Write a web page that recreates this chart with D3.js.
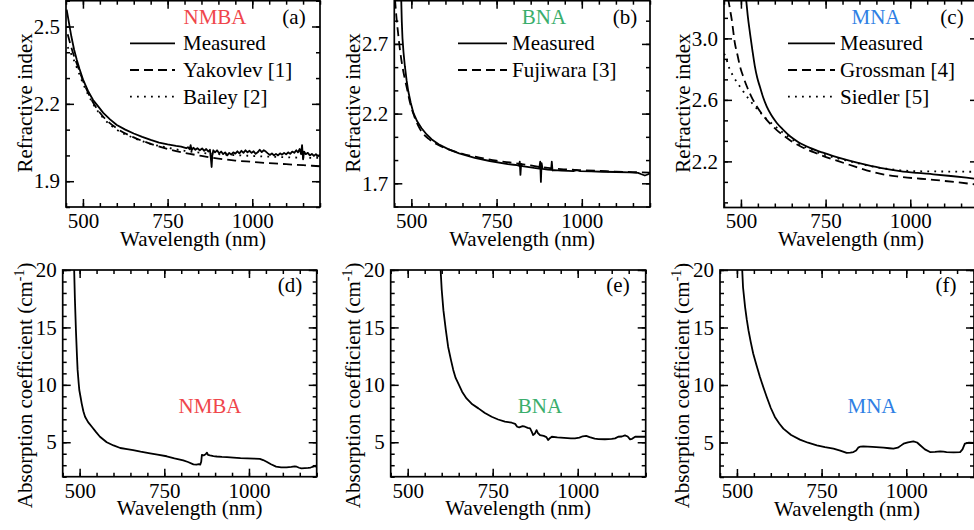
<!DOCTYPE html>
<html>
<head>
<meta charset="utf-8">
<script src="https://cdn.jsdelivr.net/npm/d3@7"></script>
<style>
  body { margin: 0; background: #fff; }
  svg, svg text { font-family: "Liberation Serif", "DejaVu Serif", serif; }
</style>
</head>
<body>
<svg id="fig" width="974" height="530" font-family="Liberation Serif, DejaVu Serif, serif"></svg>
<script>
// Refractive index (top row) and absorption (bottom row) for NMBA, BNA, MNA
// Values: [wavelength nm, value]

const nmbaMeasured = [
  [452,2.565],[458,2.52],[466,2.46],[474,2.41],[482,2.37],[490,2.335],[500,2.295],[515,2.25],
  [530,2.215],[545,2.19],[560,2.165],[580,2.14],[600,2.118],[625,2.1],[650,2.085],[675,2.072],
  [700,2.06],[725,2.05],[750,2.043],[775,2.037],[790,2.034],[800,2.03],[805,2.028],[810,2.032],
  [815,2.024],[818,2.04],[821,2.02],[826,2.03],[832,2.022],[838,2.028],[845,2.02],[852,2.027],
  [858,2.018],[864,2.025],[870,2.015],[875,2.022],[878,1.985],[880,1.955],[882,2.0],[885,2.02],
  [890,2.012],[896,2.02],[902,2.008],[908,2.015],[914,2.005],[920,2.012],[926,2.0],[932,2.01],
  [938,2.003],[944,2.012],[950,2.007],[956,2.016],[962,2.008],[968,2.018],[974,2.01],[980,2.02],
  [986,2.012],[992,2.018],[998,2.01],[1004,2.016],[1010,2.006],[1016,2.012],[1022,2.022],[1028,2.013],
  [1034,2.02],[1040,2.015],[1046,2.008],[1052,2.002],[1058,2.008],[1064,2.0],[1070,2.006],[1076,2.0],
  [1082,2.008],[1088,2.003],[1094,2.01],[1100,2.004],[1106,2.012],[1112,2.006],[1118,2.015],[1124,2.01],
  [1130,2.02],[1135,2.012],[1140,2.025],[1144,2.005],[1147,2.04],[1150,1.985],[1153,2.015],[1158,2.005],
  [1164,2.01],[1170,2.0],[1176,2.006],[1182,1.998],[1188,2.005],[1194,1.998],[1200,2.003]
];
const nmbaYakovlev = [
  [455,2.47],[470,2.40],[485,2.345],[500,2.29],[530,2.205],[560,2.15],[600,2.105],[650,2.07],
  [700,2.045],[750,2.025],[800,2.01],[850,1.998],[900,1.988],[950,1.98],[1000,1.975],[1050,1.97],
  [1100,1.966],[1150,1.962],[1200,1.958]
];
const nmbaBailey = [
  [455,2.42],[470,2.38],[485,2.33],[500,2.28],[530,2.2],[560,2.145],[600,2.1],[650,2.068],
  [700,2.045],[750,2.03],[800,2.018],[850,2.01],[900,2.005],[1000,1.998],[1100,1.993],[1200,1.99]
];

const bnaMeasured = [
  [470,3.05],[472,2.86],[474,2.74],[477,2.64],[481,2.54],[486,2.44],[491,2.36],[498,2.28],
  [506,2.205],[517,2.145],[530,2.095],[545,2.05],[560,2.015],[580,1.98],[608,1.945],[640,1.915],
  [686,1.883],[730,1.86],[783,1.838],[800,1.833],[810,1.83],[815,1.826],[818,1.855],[820,1.76],
  [822,1.84],[825,1.823],[840,1.818],[860,1.81],[875,1.806],[878,1.855],[880,1.71],[882,1.845],
  [885,1.803],[900,1.798],[910,1.796],[912,1.855],[914,1.792],[920,1.795],[940,1.791],[960,1.789],
  [975,1.787],[985,1.794],[995,1.788],[1028,1.785],[1060,1.783],[1100,1.781],[1140,1.778],[1165,1.775],
  [1175,1.765],[1185,1.756],[1193,1.763],[1200,1.772]
];
const bnaFujiwara = [
  [452,3.02],[456,2.90],[461,2.78],[467,2.65],[473,2.55],[480,2.46],[488,2.37],[497,2.27],
  [508,2.185],[525,2.09],[550,2.02],[575,1.98],[600,1.952],[650,1.912],[700,1.885],[750,1.862],
  [800,1.846],[850,1.828],[900,1.81],[950,1.8],[1000,1.794],[1050,1.789],[1100,1.784],[1150,1.78],
  [1200,1.777]
];

const mnaMeasured = [
  [515,3.26],[520,3.15],[527,3.03],[534,2.92],[541,2.82],[548,2.745],[556,2.685],[565,2.62],
  [576,2.558],[590,2.5],[606,2.45],[625,2.405],[645,2.363],[670,2.325],[704,2.288],[740,2.258],
  [773,2.234],[820,2.205],[871,2.178],[920,2.155],[970,2.137],[1020,2.125],[1068,2.116],[1120,2.105],
  [1166,2.094],[1200,2.085]
];
const mnaGrossman = [
  [462,3.26],[468,3.185],[473,3.12],[482,2.97],[490,2.89],[497,2.82],[507,2.75],[517,2.69],
  [530,2.625],[546,2.56],[565,2.5],[586,2.445],[605,2.405],[625,2.37],[650,2.33],[674,2.3],
  [720,2.255],[773,2.212],[820,2.178],[871,2.142],[910,2.12],[970,2.1],[1068,2.08],[1130,2.066],
  [1200,2.048]
];
const mnaSiedler = [
  [450,2.9],[453,2.89],[465,2.81],[477,2.755],[490,2.71],[507,2.655],[525,2.6],[546,2.545],
  [576,2.475],[600,2.43],[625,2.385],[650,2.345],[674,2.31],[710,2.275],[743,2.245],[780,2.222],
  [822,2.2],[881,2.17],[930,2.152],[970,2.142],[1010,2.137],[1050,2.135],[1100,2.134],[1200,2.132]
];

const nmbaAbs = [
  [483,21],[486,17.5],[489,14.8],[492,12.6],[494,11.3],[497,10.2],[499,9.55],[503,8.9],[506,8.39],
  [511,7.7],[516,7.22],[525,6.75],[536,6.35],[548,5.9],[560,5.48],[580,5.0],[600,4.72],[620,4.5],
  [640,4.4],[658,4.32],[680,4.18],[708,4.03],[730,3.92],[757,3.78],[780,3.6],[806,3.42],[820,3.28],
  [836,3.08],[845,3.05],[852,3.1],[856,3.05],[859,3.3],[861,3.9],[866,3.85],[872,3.95],[876,4.1],
  [879,3.9],[885,3.85],[895,3.8],[905,3.76],[920,3.72],[935,3.7],[954,3.66],[975,3.62],[995,3.6],
  [1015,3.58],[1032,3.56],[1042,3.45],[1052,3.3],[1065,3.08],[1080,2.88],[1095,2.82],[1111,2.82],
  [1125,2.85],[1135,2.9],[1141,2.87],[1148,2.78],[1155,2.72],[1165,2.74],[1175,2.76],[1182,2.8],
  [1190,2.88],[1197,2.95],[1200,2.8]
];
const bnaAbs = [
  [595,21],[600,18.3],[605,16.5],[612,14.8],[619,13.3],[627,12.2],[634,11.3],[641,10.6],[649,10.1],
  [660,9.4],[673,8.82],[690,8.3],[708,7.95],[727,7.55],[747,7.22],[766,6.98],[786,6.79],[806,6.7],
  [816,6.6],[822,6.35],[828,6.3],[838,6.4],[845,6.35],[853,6.25],[860,6.2],[865,5.9],[869,5.63],
  [874,5.75],[879,6.06],[883,5.8],[889,5.63],[900,5.55],[908,5.45],[913,5.19],[918,5.35],[924,5.48],
  [940,5.42],[960,5.38],[980,5.33],[992,5.34],[1005,5.4],[1015,5.52],[1025,5.55],[1035,5.45],
  [1050,5.32],[1061,5.28],[1080,5.26],[1100,5.3],[1110,5.34],[1119,5.48],[1130,5.5],[1139,5.6],
  [1147,5.5],[1154,5.25],[1160,5.3],[1169,5.48],[1185,5.48],[1200,5.48]
];
const mnaAbs = [
  [514,21],[518,18.5],[524,16.8],[529,15.7],[534,14.77],[541,13.7],[548,12.74],[558,11.7],[568,10.7],
  [578,9.8],[588,8.96],[600,8.0],[612,7.22],[625,6.65],[637,6.21],[660,5.65],[686,5.25],[710,4.98],
  [736,4.76],[760,4.6],[785,4.47],[805,4.3],[824,4.09],[835,4.12],[844,4.17],[852,4.3],[858,4.55],
  [865,4.65],[873,4.67],[900,4.62],[933,4.55],[950,4.5],[962,4.47],[975,4.55],[985,4.75],[992,4.9],
  [1005,5.02],[1021,5.1],[1032,5.0],[1041,4.76],[1055,4.4],[1070,4.17],[1085,4.18],[1100,4.23],
  [1110,4.2],[1119,4.17],[1140,4.15],[1159,4.17],[1166,4.4],[1173,4.9],[1185,4.98],[1200,4.96]
];

const xDomain = [450, 1200];
const xMajor = [500, 750, 1000];
const xMinor = d3.range(450, 1201, 50);

const SERIF = 'Liberation Serif, DejaVu Serif, serif';
const FONT = 21;
const DASH = '9,5';
const DOT = '1.8,5.2';

const panels = [
  { tag: '(a)', name: 'NMBA', color: '#f0464b', box: { l: 66, r: 320, t: 0.7, b: 207 },
    yDom: [1.8, 2.6], yMajor: [1.9, 2.2, 2.5], yStep: 0.1, yFmt: '.1f', yLabel: 'Refractive index',
    series: [
      { data: nmbaMeasured, label: 'Measured', dash: null, smooth: false },
      { data: nmbaYakovlev, label: 'Yakovlev [1]', dash: DASH, smooth: true },
      { data: nmbaBailey, label: 'Bailey [2]', dash: DOT, smooth: true }
    ],
    legend: { x0: 130, x1: 175, tx: 183, y0: 43.3, dy: 26.7 },
    namePos: [215, 24], tagPos: [294, 24] },
  { tag: '(b)', name: 'BNA', color: '#3aae6c', box: { l: 394.3, r: 650, t: 0.7, b: 207 },
    yDom: [1.53, 3.01], yMajor: [1.7, 2.2, 2.7], yStep: 0.5 / 3, yFmt: '.1f', yLabel: 'Refractive index',
    series: [
      { data: bnaMeasured, label: 'Measured', dash: null, smooth: false },
      { data: bnaFujiwara, label: 'Fujiwara [3]', dash: DASH, smooth: true }
    ],
    legend: { x0: 458, x1: 507, tx: 512, y0: 43.3, dy: 26.7 },
    namePos: [544, 24], tagPos: [625, 24] },
  { tag: '(c)', name: 'MNA', color: '#2f7fe4', box: { l: 724, r: 978, t: 0.7, b: 207.5 },
    yDom: [1.9, 3.245], yMajor: [2.2, 2.6, 3.0], yStep: 0.4 / 3, yFmt: '.1f', yLabel: 'Refractive index',
    series: [
      { data: mnaMeasured, label: 'Measured', dash: null, smooth: true },
      { data: mnaGrossman, label: 'Grossman [4]', dash: DASH, smooth: true },
      { data: mnaSiedler, label: 'Siedler [5]', dash: DOT, smooth: true }
    ],
    legend: { x0: 788, x1: 835, tx: 840, y0: 43.3, dy: 26.7 },
    namePos: [876, 24], tagPos: [952, 24] },
  { tag: '(d)', name: 'NMBA', color: '#f0464b', box: { l: 62.7, r: 316.7, t: 270, b: 476.7 },
    yDom: [2, 20], yMajor: [5, 10, 15, 20], yStep: 1, yFmt: 'd', yLabel: null,
    series: [{ data: nmbaAbs, dash: null, smooth: false }],
    namePos: [210, 413], tagPos: [290, 292] },
  { tag: '(e)', name: 'BNA', color: '#3aae6c', box: { l: 390.7, r: 645.7, t: 270, b: 476.7 },
    yDom: [2, 20], yMajor: [5, 10, 15, 20], yStep: 1, yFmt: 'd', yLabel: null,
    series: [{ data: bnaAbs, dash: null, smooth: false }],
    namePos: [540, 413], tagPos: [618, 292] },
  { tag: '(f)', name: 'MNA', color: '#2f7fe4', box: { l: 720, r: 974, t: 270, b: 477 },
    yDom: [2, 20], yMajor: [5, 10, 15, 20], yStep: 1, yFmt: 'd', yLabel: null,
    series: [{ data: mnaAbs, dash: null, smooth: false }],
    namePos: [872, 413], tagPos: [946, 292] }
];

const svg = d3.select('#fig');

function minorTicks(dom, anchor, step) {
  const out = [];
  const k0 = Math.ceil((dom[0] - anchor) / step - 1e-6);
  const k1 = Math.floor((dom[1] - anchor) / step + 1e-6);
  for (let k = k0; k <= k1; k++) out.push(anchor + k * step);
  return out;
}

function styleAxis(g) {
  g.attr('font-family', SERIF).attr('font-size', FONT);
  g.select('.domain').remove();
  g.selectAll('.tick line').attr('stroke', '#000').attr('stroke-width', 1.5);
  g.selectAll('.tick text').attr('fill', '#000').attr('font-family', SERIF);
}

function txt(sel) {
  return sel.append('text').attr('font-family', SERIF).attr('font-size', FONT);
}

panels.forEach((p, i) => {
  const { l, r, t, b } = p.box;
  const x = d3.scaleLinear().domain(xDomain).range([l, r]);
  const y = d3.scaleLinear().domain(p.yDom).range([b, t]);
  const g = svg.append('g');

  // clip for data lines
  const clipId = 'clip' + i;
  svg.append('clipPath').attr('id', clipId)
    .append('rect').attr('x', l).attr('y', t).attr('width', r - l).attr('height', b - t);

  const yMin = minorTicks(p.yDom, p.yMajor[0], p.yStep);

  // bottom: major with labels, minor without
  g.append('g').attr('transform', `translate(0,${b})`)
    .call(d3.axisBottom(x).tickValues(xMajor).tickSizeInner(-8).tickSizeOuter(0).tickPadding(6).tickFormat(d3.format('d')))
    .call(styleAxis);
  g.append('g').attr('transform', `translate(0,${b})`)
    .call(d3.axisBottom(x).tickValues(xMinor).tickSizeInner(-4).tickSizeOuter(0).tickFormat(''))
    .call(styleAxis);
  // top mirror
  g.append('g').attr('transform', `translate(0,${t})`)
    .call(d3.axisTop(x).tickValues(xMajor).tickSizeInner(-8).tickSizeOuter(0).tickFormat(''))
    .call(styleAxis);
  g.append('g').attr('transform', `translate(0,${t})`)
    .call(d3.axisTop(x).tickValues(xMinor).tickSizeInner(-4).tickSizeOuter(0).tickFormat(''))
    .call(styleAxis);
  // left
  g.append('g').attr('transform', `translate(${l},0)`)
    .call(d3.axisLeft(y).tickValues(p.yMajor).tickSizeInner(-8).tickSizeOuter(0).tickPadding(6).tickFormat(d3.format(p.yFmt)))
    .call(styleAxis);
  g.append('g').attr('transform', `translate(${l},0)`)
    .call(d3.axisLeft(y).tickValues(yMin).tickSizeInner(-4).tickSizeOuter(0).tickFormat(''))
    .call(styleAxis);
  // right mirror
  g.append('g').attr('transform', `translate(${r},0)`)
    .call(d3.axisRight(y).tickValues(p.yMajor).tickSizeInner(-8).tickSizeOuter(0).tickFormat(''))
    .call(styleAxis);
  g.append('g').attr('transform', `translate(${r},0)`)
    .call(d3.axisRight(y).tickValues(yMin).tickSizeInner(-4).tickSizeOuter(0).tickFormat(''))
    .call(styleAxis);

  // data
  const plot = g.append('g').attr('clip-path', `url(#${clipId})`);
  p.series.forEach(s => {
    const line = d3.line().x(d => x(d[0])).y(d => y(d[1]))
      .curve(s.smooth ? d3.curveMonotoneX : d3.curveLinear);
    plot.append('path').datum(s.data)
      .attr('d', line)
      .attr('fill', 'none')
      .attr('stroke', '#000')
      .attr('stroke-width', 1.8)
      .attr('stroke-linejoin', 'round')
      .attr('stroke-dasharray', s.dash);
  });

  // frame
  g.append('rect').attr('x', l).attr('y', t).attr('width', r - l).attr('height', b - t)
    .attr('fill', 'none').attr('stroke', '#000').attr('stroke-width', 1.7);

  // legend
  if (p.legend) {
    p.series.forEach((s, k) => {
      const ly = p.legend.y0 + k * p.legend.dy;
      g.append('line').attr('x1', p.legend.x0).attr('x2', p.legend.x1).attr('y1', ly).attr('y2', ly)
        .attr('stroke', '#000').attr('stroke-width', 1.8).attr('stroke-dasharray', s.dash);
      txt(g).attr('x', p.legend.tx).attr('y', ly + 6.8).text(s.label);
    });
  }

  // sample name and panel tag
  txt(g).attr('x', p.namePos[0]).attr('y', p.namePos[1]).attr('text-anchor', 'middle')
    .attr('fill', p.color).text(p.name);
  txt(g).attr('x', p.tagPos[0]).attr('y', p.tagPos[1]).attr('text-anchor', 'middle').text(p.tag);

  // axis titles
  txt(g).attr('x', (l + r) / 2).attr('y', b + 38.5).attr('text-anchor', 'middle').text('Wavelength (nm)');

  if (p.yLabel) {
    txt(g).attr('transform', `translate(${l - 34},${(t + b) / 2 - 1})rotate(-90)`)
      .attr('text-anchor', 'middle').text(p.yLabel);
  } else {
    const yl = txt(g).attr('transform', `translate(${l - 31},${(t + b) / 2 + 12})rotate(-90)`)
      .attr('text-anchor', 'middle');
    yl.append('tspan').text('Absorption coefficient (cm');
    yl.append('tspan').attr('dy', -8).attr('font-size', 14).text('-1');
    yl.append('tspan').attr('dy', 8).text(')');
  }
});
</script>
</body>
</html>
